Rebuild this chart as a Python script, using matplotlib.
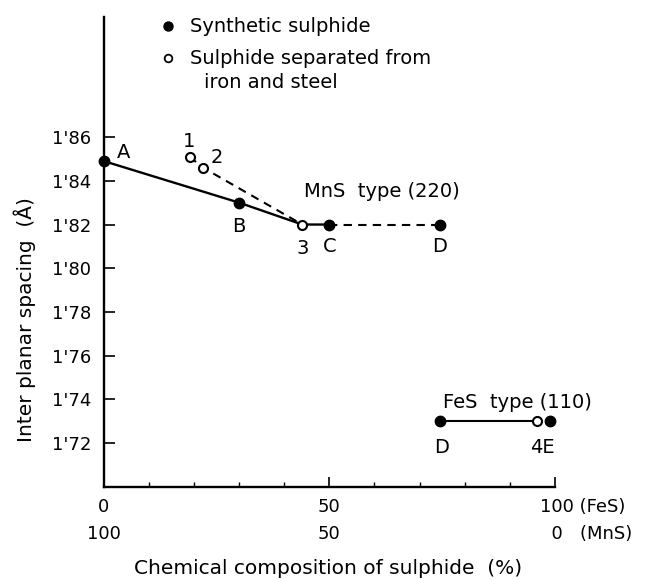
import numpy as np
import matplotlib
matplotlib.use("Agg")
import matplotlib.pyplot as plt
from matplotlib.lines import Line2D

# composition (% FeS) vs inter planar spacing (A)
synth_x = [0, 30, 50, 74.5]
synth_y = [1.849, 1.830, 1.820, 1.820]
synth_lbl = ["A", "B", "C", "D"]
fes_synth_x = [74.5, 99]
fes_synth_y = [1.730, 1.730]
fes_synth_lbl = ["D", "E"]

sep_x = [19, 22, 44]
sep_y = [1.851, 1.846, 1.820]
sep_lbl = ["1", "2", "3"]
fes_sep_x = [96]
fes_sep_y = [1.730]

yticks = [1.72, 1.74, 1.76, 1.78, 1.80, 1.82, 1.84, 1.86]
xticks_major = [0, 50, 100]

plt.rcParams['font.family'] = ['DejaVu Sans']
FS = 14
TFS = 13

fig = plt.figure(figsize=(6.49, 5.79), dpi=100)
ax = fig.add_axes([0.160, 0.159, 0.695, 0.812])
ax.set_xlim(0, 100)
ax.set_ylim(1.700, 1.915)

# MnS type lines
ax.plot(synth_x[:2], synth_y[:2], color='black', lw=1.7, zorder=2)
ax.plot([synth_x[1], sep_x[2], synth_x[2]], [synth_y[1], sep_y[2], synth_y[2]],
        color='black', lw=1.7, zorder=2)
ax.plot(sep_x, sep_y, color='black', lw=1.5, ls=(0, (4, 3)), zorder=2)
ax.plot(synth_x[2:], synth_y[2:], color='black', lw=1.5, ls=(0, (4, 3)), zorder=2)
# FeS type line
ax.plot([fes_synth_x[0], fes_sep_x[0]], [fes_synth_y[0], fes_sep_y[0]],
        color='black', lw=1.5, zorder=2)

ax.plot(synth_x + fes_synth_x, synth_y + fes_synth_y, 'o', color='black',
        ms=7.5, zorder=4, clip_on=False)
ax.plot(sep_x + fes_sep_x, sep_y + fes_sep_y, 'o', mfc='white', mec='black',
        mew=1.5, ms=6.5, zorder=5)

# point labels
offs = {"A": (14, 6), "B": (0, -17), "C": (0, -16), "D": (0, -16)}
for x, y, t in zip(synth_x, synth_y, synth_lbl):
    ax.annotate(t, (x, y), xytext=offs[t], textcoords='offset points',
                ha='center', va='center', fontsize=FS)
sep_offs = {"1": (0, 11), "2": (10, 7), "3": (0, -17)}
for x, y, t in zip(sep_x, sep_y, sep_lbl):
    ax.annotate(t, (x, y), xytext=sep_offs[t], textcoords='offset points',
                ha='center', va='center', fontsize=FS)
ax.annotate("D", (fes_synth_x[0], fes_synth_y[0]), xytext=(1, -19),
            textcoords='offset points', ha='center', va='center', fontsize=FS)
ax.annotate("4E", (fes_sep_x[0], fes_sep_y[0]), xytext=(4, -19),
            textcoords='offset points', ha='center', va='center', fontsize=FS)

ax.text(61.6, 1.8352, "MnS  type (220)", ha='center', va='center', fontsize=FS)
ax.text(91.8, 1.7387, "FeS  type (110)", ha='center', va='center', fontsize=FS)

# axes styling
for s in ['top', 'right']:
    ax.spines[s].set_visible(False)
for s in ['left', 'bottom']:
    ax.spines[s].set_linewidth(1.7)

ax.set_yticks(yticks)
ax.set_yticklabels(["1'%02d" % round((v - 1) * 100) for v in yticks], fontsize=TFS)
ax.tick_params(axis='y', direction='in', length=8, width=1.2, pad=9)

ax.set_xticks(xticks_major)
ax.set_xticklabels(["0\n100", "50\n50", ""], fontsize=TFS, linespacing=1.65)
ax.set_xticks(np.arange(10, 100, 10), minor=True)
ax.tick_params(axis='x', which='major', direction='in', length=7, width=1.2, pad=8)
ax.tick_params(axis='x', which='minor', direction='in', length=3.5, width=1.0)
ax.annotate("100 (FeS)\n  0   (MnS)", (100, 0), xycoords=('data', 'axes fraction'),
            xytext=(-11, -8), textcoords='offset points', ha='left', va='top',
            fontsize=TFS, linespacing=1.65)

fig.text(328 / 649, 1 - 568 / 579, "Chemical composition of sulphide  (%)",
         ha='center', va='center', fontsize=14.5)
fig.text(25 / 649, 1 - 320 / 579, "Inter planar spacing  (Å)", rotation=90,
         ha='center', va='center', fontsize=14.5)

# key
fig.add_artist(Line2D([168 / 649], [1 - 26 / 579], marker='o', color='black', ms=6.5))
fig.add_artist(Line2D([168 / 649], [1 - 58 / 579], marker='o', mfc='white',
                      mec='black', mew=1.3, ms=5.5))
fig.text(190 / 649, 1 - 26 / 579, "Synthetic sulphide", ha='left', va='center', fontsize=FS)
fig.text(190 / 649, 1 - 58 / 579, "Sulphide separated from",
         ha='left', va='center', fontsize=FS)
fig.text(204 / 649, 1 - 82 / 579, "iron and steel",
         ha='left', va='center', fontsize=FS)

fig.savefig("out.png", dpi=100)
